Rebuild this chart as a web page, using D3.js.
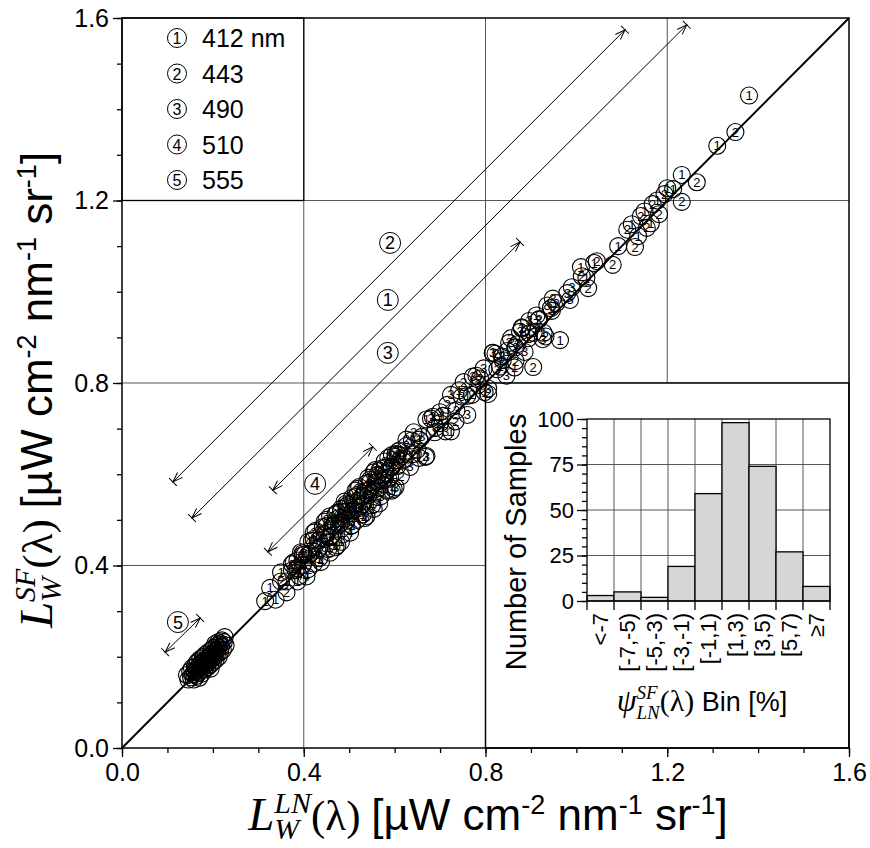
<!DOCTYPE html>
<html>
<head>
<meta charset="utf-8">
<script src="https://cdn.jsdelivr.net/npm/d3@7"></script>
<style>body{margin:0;background:#fff} text{white-space:pre}</style>
</head>
<body>
<div id="chart"></div>
<script>
// ---- data ----
// each point: [L_W^LN, L_W^SF]
var band412 = [[0.315,0.322],[0.326,0.351],[0.338,0.325],[0.350,0.385],[0.362,0.365],[0.374,0.389],[0.386,0.365],[0.398,0.427],[0.410,0.422],[0.422,0.458],[0.434,0.416],[0.446,0.496],[0.458,0.462],[0.470,0.492],[0.482,0.452],[0.494,0.536],[0.506,0.518],[0.518,0.554],[0.530,0.512],[0.542,0.592],[0.557,0.609],[0.566,0.570],[0.580,0.602],[0.594,0.564],[0.608,0.650],[0.622,0.634],[0.638,0.674],[0.654,0.636],[0.670,0.720],[0.688,0.692],[0.706,0.728],[0.724,0.694],[0.742,0.784],[0.760,0.772],[0.780,0.816],[0.798,0.780],[0.816,0.866],[0.832,0.836],[0.848,0.870],[0.864,0.834],[0.880,0.922],[0.896,0.908],[0.912,0.948],[0.928,0.910],[0.944,0.964],[0.964,0.894],[1.010,1.054],[1.022,1.030],[1.039,1.063],[1.092,1.100],[1.122,1.148],[1.136,1.122],[1.150,1.176],[1.164,1.150],[1.178,1.200],[1.200,1.227],[1.213,1.225],[1.232,1.256],[1.310,1.320],[1.380,1.430]];
var band443 = [[0.350,0.365],[0.362,0.341],[0.374,0.403],[0.386,0.394],[0.398,0.423],[0.410,0.392],[0.422,0.472],[0.434,0.438],[0.446,0.468],[0.458,0.428],[0.470,0.512],[0.482,0.494],[0.494,0.530],[0.506,0.488],[0.518,0.568],[0.530,0.534],[0.542,0.564],[0.554,0.524],[0.566,0.608],[0.578,0.590],[0.594,0.642],[0.602,0.638],[0.614,0.596],[0.626,0.676],[0.640,0.644],[0.654,0.676],[0.668,0.638],[0.684,0.726],[0.700,0.712],[0.716,0.752],[0.734,0.716],[0.752,0.802],[0.770,0.774],[0.788,0.810],[0.806,0.776],[0.822,0.864],[0.838,0.850],[0.852,0.888],[0.866,0.848],[0.880,0.920],[0.894,0.898],[0.905,0.835],[0.918,0.940],[0.932,0.902],[0.948,0.985],[1.012,1.034],[1.026,1.008],[1.045,1.067],[1.080,1.059],[1.112,1.136],[1.129,1.098],[1.142,1.166],[1.155,1.140],[1.168,1.192],[1.182,1.170],[1.194,1.214],[1.232,1.197],[1.265,1.240],[1.350,1.350]];
var band490 = [[0.450,0.500],[0.458,0.462],[0.466,0.488],[0.474,0.444],[0.482,0.524],[0.490,0.502],[0.498,0.534],[0.506,0.488],[0.514,0.564],[0.522,0.526],[0.530,0.552],[0.538,0.508],[0.546,0.588],[0.554,0.566],[0.562,0.598],[0.570,0.552],[0.578,0.628],[0.586,0.590],[0.594,0.616],[0.602,0.572],[0.610,0.652],[0.618,0.630],[0.626,0.662],[0.634,0.616],[0.642,0.692],[0.650,0.654],[0.660,0.682],[0.670,0.640],[0.680,0.722],[0.690,0.702],[0.700,0.736],[0.712,0.694],[0.724,0.774],[0.736,0.740],[0.748,0.770],[0.760,0.730],[0.772,0.814],[0.784,0.796],[0.796,0.832],[0.806,0.788],[0.816,0.866],[0.826,0.830],[0.836,0.858],[0.846,0.816],[0.856,0.898],[0.866,0.878],[0.876,0.912],[0.886,0.868],[0.896,0.936],[0.906,0.910],[0.916,0.938],[0.926,0.896],[0.936,0.970],[0.946,0.958],[0.956,0.975],[0.980,0.997],[0.990,1.010],[0.986,0.982],[0.870,0.885]];
var band510 = [[0.378,0.407],[0.382,0.390],[0.386,0.411],[0.390,0.377],[0.394,0.429],[0.398,0.401],[0.402,0.424],[0.406,0.376],[0.410,0.452],[0.414,0.426],[0.418,0.454],[0.422,0.404],[0.426,0.476],[0.430,0.434],[0.434,0.456],[0.438,0.408],[0.442,0.484],[0.446,0.458],[0.450,0.486],[0.454,0.436],[0.458,0.508],[0.462,0.466],[0.466,0.488],[0.470,0.440],[0.474,0.516],[0.478,0.490],[0.482,0.518],[0.486,0.468],[0.490,0.540],[0.494,0.498],[0.498,0.520],[0.502,0.472],[0.506,0.548],[0.510,0.522],[0.514,0.550],[0.518,0.500],[0.522,0.572],[0.526,0.530],[0.530,0.552],[0.534,0.504],[0.538,0.580],[0.542,0.554],[0.546,0.582],[0.550,0.532],[0.554,0.604],[0.558,0.562],[0.562,0.584],[0.566,0.536],[0.570,0.612],[0.574,0.586],[0.578,0.614],[0.582,0.564],[0.586,0.636],[0.590,0.594],[0.594,0.616],[0.598,0.568],[0.602,0.644],[0.606,0.618],[0.607,0.643]];
var band555 = [[0.143,0.160],[0.146,0.150],[0.150,0.168],[0.152,0.155],[0.154,0.175],[0.156,0.162],[0.158,0.150],[0.160,0.178],[0.161,0.166],[0.163,0.185],[0.164,0.158],[0.166,0.172],[0.167,0.190],[0.169,0.165],[0.170,0.181],[0.172,0.195],[0.173,0.170],[0.175,0.186],[0.176,0.163],[0.178,0.199],[0.179,0.178],[0.181,0.192],[0.182,0.172],[0.184,0.205],[0.185,0.184],[0.187,0.196],[0.188,0.177],[0.190,0.210],[0.191,0.189],[0.193,0.201],[0.194,0.182],[0.196,0.214],[0.197,0.195],[0.199,0.207],[0.200,0.188],[0.202,0.220],[0.203,0.199],[0.205,0.212],[0.206,0.193],[0.208,0.224],[0.209,0.205],[0.211,0.217],[0.213,0.200],[0.215,0.229],[0.216,0.210],[0.218,0.222],[0.220,0.236],[0.222,0.215],[0.224,0.232],[0.226,0.243],[0.228,0.225],[0.180,0.200],[0.195,0.174],[0.170,0.154],[0.205,0.228],[0.160,0.170],[0.188,0.186],[0.212,0.232],[0.198,0.216]];

var bandLabels = ["412 nm", "443", "490", "510", "555"];

// range arrows for each band (data units), drawn offset from the 1:1 line
var arrowBand  = [2, 1, 3, 4, 5];
var arrowFrom  = [[0.112,0.583],[0.154,0.504],[0.332,0.565],[0.321,0.430],[0.095,0.210]];
var arrowTo    = [[1.107,1.574],[1.243,1.585],[0.876,1.109],[0.552,0.660],[0.172,0.285]];
var arrowLabel = [[0.590,1.107],[0.585,0.982],[0.585,0.866],[0.425,0.579],[0.123,0.276]];

var axisTicks = [0.0, 0.4, 0.8, 1.2, 1.6];

// inset histogram
var histBins = ["<-7", "[-7,-5)", "[-5,-3)", "[-3,-1)", "[-1,1)", "[1,3)", "[3,5)", "[5,7)", "\u22657"];
var histCounts = [3, 5, 2, 19, 59, 98, 74, 27, 8];
var histTicks = [0, 25, 50, 75, 100];

// ---- drawing ----
var W = 870, H = 848;
var sans = "'Liberation Sans', Arial, sans-serif";
var serif = "'Liberation Serif', 'Times New Roman', serif";

var svg = d3.select("#chart").append("svg")
  .attr("width", W).attr("height", H);

var x = d3.scaleLinear().domain([0, 1.6]).range([122, 849]);
var y = d3.scaleLinear().domain([0, 1.6]).range([748, 18]);

// grid
svg.append("g").selectAll("line.gx").data([0.4, 0.8, 1.2]).enter().append("line")
  .attr("x1", function(d) { return x(d); }).attr("x2", function(d) { return x(d); })
  .attr("y1", y(0)).attr("y2", y(1.6))
  .attr("stroke", "#444").attr("stroke-width", 0.9);
svg.append("g").selectAll("line.gy").data([0.4, 0.8, 1.2]).enter().append("line")
  .attr("y1", function(d) { return y(d); }).attr("y2", function(d) { return y(d); })
  .attr("x1", x(0)).attr("x2", x(1.6))
  .attr("stroke", "#444").attr("stroke-width", 0.9);

// axes
var minor = d3.range(0, 1.61, 0.1);
svg.append("g").attr("transform", "translate(0," + y(0) + ")")
  .call(d3.axisBottom(x).tickValues(minor).tickSize(5).tickFormat(""))
  .call(function(g) { g.select(".domain").remove(); });
svg.append("g").attr("transform", "translate(" + x(0) + ",0)")
  .call(d3.axisLeft(y).tickValues(minor).tickSize(5).tickFormat(""))
  .call(function(g) { g.select(".domain").remove(); });

var xAxis = svg.append("g").attr("transform", "translate(0," + y(0) + ")")
  .call(d3.axisBottom(x).tickValues(axisTicks).tickSize(9).tickPadding(6).tickFormat(d3.format(".1f")));
var yAxis = svg.append("g").attr("transform", "translate(" + x(0) + ",0)")
  .call(d3.axisLeft(y).tickValues(axisTicks).tickSize(9).tickPadding(4).tickFormat(d3.format(".1f")));
[xAxis, yAxis].forEach(function(g) {
  g.select(".domain").remove();
  g.selectAll("text").attr("font-family", sans).attr("font-size", 25).attr("fill", "#000");
});
svg.selectAll(".tick line").attr("stroke", "#000").attr("stroke-width", 1.3);

// legend box (upper-left grid cell)
svg.append("rect")
  .attr("x", x(0)).attr("y", y(1.6))
  .attr("width", x(0.4) - x(0)).attr("height", y(1.2) - y(1.6))
  .attr("fill", "#fff").attr("stroke", "#000").attr("stroke-width", 1.3);
var leg = svg.append("g");
bandLabels.forEach(function(lab, i) {
  var cy = 38 + i * 35.5;
  leg.append("circle").attr("cx", 177).attr("cy", cy).attr("r", 9.5)
    .attr("fill", "none").attr("stroke", "#000").attr("stroke-width", 1);
  leg.append("text").attr("x", 177).attr("y", cy + 6).attr("text-anchor", "middle")
    .attr("font-family", sans).attr("font-size", 16).text(String(i + 1));
  leg.append("text").attr("x", 202).attr("y", cy + 9)
    .attr("font-family", sans).attr("font-size", 25).text(lab);
});

// range arrows
var defs = svg.append("defs");
defs.append("marker").attr("id", "bar").attr("viewBox", "-12 -7 14 14")
  .attr("refX", 0).attr("refY", 0).attr("markerWidth", 14).attr("markerHeight", 14)
  .attr("markerUnits", "userSpaceOnUse").attr("orient", "auto-start-reverse")
  .append("path").attr("d", "M0,-5.5L0,5.5M-10,-3.5L0,0L-10,3.5")
  .attr("fill", "none").attr("stroke", "#000").attr("stroke-width", 1);

var arr = svg.append("g");
arrowFrom.forEach(function(f, i) {
  var t = arrowTo[i];
  arr.append("line")
    .attr("x1", x(f[0])).attr("y1", y(f[1])).attr("x2", x(t[0])).attr("y2", y(t[1]))
    .attr("stroke", "#000").attr("stroke-width", 1)
    .attr("marker-start", "url(#bar)").attr("marker-end", "url(#bar)");
  var l = arrowLabel[i];
  arr.append("circle").attr("cx", x(l[0])).attr("cy", y(l[1])).attr("r", 10.5)
    .attr("fill", "#fff").attr("stroke", "#000").attr("stroke-width", 1);
  arr.append("text").attr("x", x(l[0])).attr("y", y(l[1]) + 6.5).attr("text-anchor", "middle")
    .attr("font-family", sans).attr("font-size", 18).text(String(arrowBand[i]));
});

// ---- inset histogram (lower-right grid cell) ----
svg.append("rect")
  .attr("x", x(0.8)).attr("y", y(0.8))
  .attr("width", x(1.6) - x(0.8)).attr("height", y(0) - y(0.8))
  .attr("fill", "#fff").attr("stroke", "#000").attr("stroke-width", 1.5);

var hx = d3.scaleBand().domain(histBins).range([587, 830]);
var hy = d3.scaleLinear().domain([0, 100]).range([601, 419]);
var hg = svg.append("g");

// inset grid
hg.selectAll("line.vg").data(histBins.slice(1)).enter().append("line")
  .attr("x1", function(d) { return hx(d); }).attr("x2", function(d) { return hx(d); })
  .attr("y1", hy(0)).attr("y2", hy(100)).attr("stroke", "#444").attr("stroke-width", 0.9);
hg.selectAll("line.hg").data([25, 50, 75]).enter().append("line")
  .attr("y1", function(d) { return hy(d); }).attr("y2", function(d) { return hy(d); })
  .attr("x1", 587).attr("x2", 830).attr("stroke", "#444").attr("stroke-width", 0.9);

// bars
hg.selectAll("rect.bar").data(histCounts).enter().append("rect")
  .attr("x", function(d, i) { return hx(histBins[i]); })
  .attr("y", function(d) { return hy(d); })
  .attr("width", hx.bandwidth())
  .attr("height", function(d) { return hy(0) - hy(d); })
  .attr("fill", "#d6d6d6").attr("stroke", "#000").attr("stroke-width", 1.3);

hg.append("rect").attr("x", 587).attr("y", hy(100)).attr("width", 830 - 587)
  .attr("height", hy(0) - hy(100)).attr("fill", "none").attr("stroke", "#000").attr("stroke-width", 1.3);

// inset y axis
hg.append("g").attr("transform", "translate(587,0)")
  .call(d3.axisLeft(hy).tickValues(d3.range(0, 101, 5)).tickSize(5).tickFormat(""))
  .call(function(g) { g.select(".domain").remove(); });
var hyAxis = hg.append("g").attr("transform", "translate(587,0)")
  .call(d3.axisLeft(hy).tickValues(histTicks).tickSize(10).tickPadding(3));
hyAxis.select(".domain").remove();
hyAxis.selectAll("text").attr("font-family", sans).attr("font-size", 22).attr("fill", "#000");

// inset x ticks at bin edges
hg.selectAll("line.xt").data(d3.range(histBins.length + 1)).enter().append("line")
  .attr("x1", function(i) { return 587 + i * hx.bandwidth(); })
  .attr("x2", function(i) { return 587 + i * hx.bandwidth(); })
  .attr("y1", hy(0)).attr("y2", hy(0) + 9).attr("stroke", "#000").attr("stroke-width", 1.3);
hg.selectAll("text.xl").data(histBins).enter().append("text")
  .attr("transform", function(d) { return "translate(" + (hx(d) + hx.bandwidth() / 2 + 7.5) + ",613) rotate(-90)"; })
  .attr("text-anchor", "end")
  .attr("font-family", sans).attr("font-size", 22).text(function(d) { return d; });
hg.selectAll(".tick line").attr("stroke", "#000").attr("stroke-width", 1.3);

// ---- math-style titles ----
function mathText(g, parts) {
  var pos = 0, supStart = 0;
  parts.forEach(function(p) {
    var t = g.append("text")
      .attr("font-family", p.f).attr("font-size", p.s)
      .attr("font-style", p.i ? "italic" : "normal")
      .attr("y", p.dy || 0).text(p.t);
    var w = t.node().getComputedTextLength();
    if (p.stack) {
      t.attr("x", supStart);
      pos = Math.max(pos, supStart + w);
    } else {
      t.attr("x", pos);
      supStart = pos;
      pos += w;
    }
  });
  return pos;
}
function axisTitle(sup, sub) {
  return [
    {t: "L", f: serif, s: 47, i: true},
    {t: sup, f: serif, s: 30, i: true, dy: -17},
    {t: sub, f: serif, s: 30, i: true, dy: 9, stack: true},
    {t: "(\u03bb) ", f: serif, s: 43},
    {t: "[\u00b5W cm", f: sans, s: 44},
    {t: "-2", f: sans, s: 27, dy: -16},
    {t: " nm", f: sans, s: 44},
    {t: "-1", f: sans, s: 27, dy: -16},
    {t: " sr", f: sans, s: 44},
    {t: "-1", f: sans, s: 27, dy: -16},
    {t: "]", f: sans, s: 44}
  ];
}

var xt = svg.append("g");
var xw = mathText(xt, axisTitle("LN", "W"));
xt.attr("transform", "translate(" + (488 - xw / 2) + ",830)");

var yt = svg.append("g");
var yw = mathText(yt, axisTitle("SF", "W"));
yt.attr("transform", "translate(52," + (390 + yw / 2) + ") rotate(-90)");

// inset titles
hg.append("text")
  .attr("transform", "translate(526,542) rotate(-90)")
  .attr("text-anchor", "middle").attr("font-family", sans).attr("font-size", 29)
  .text("Number of Samples");

var ixt = hg.append("g");
var ixw = mathText(ixt, [
  {t: "\u03c8", f: serif, s: 32, i: true},
  {t: "SF", f: serif, s: 19, i: true, dy: -12},
  {t: "LN", f: serif, s: 19, i: true, dy: 8, stack: true},
  {t: "(\u03bb)", f: serif, s: 30},
  {t: " Bin [%]", f: sans, s: 27}
]);
ixt.attr("transform", "translate(" + (702 - ixw / 2) + ",711)");

// ---- main frame and 1:1 line ----
svg.append("rect").attr("x", x(0)).attr("y", y(1.6))
  .attr("width", x(1.6) - x(0)).attr("height", y(0) - y(1.6))
  .attr("fill", "none").attr("stroke", "#000").attr("stroke-width", 1.5);
svg.append("line").attr("x1", x(0)).attr("y1", y(0)).attr("x2", x(1.6)).attr("y2", y(1.6))
  .attr("stroke", "#000").attr("stroke-width", 2);

// ---- scatter points: open circles with band number ----
var bands = [band412, band443, band490, band510, band555];
var pts = [];
bands.forEach(function(b, i) {
  b.forEach(function(p) { pts.push({ln: p[0], sf: p[1], band: i + 1}); });
});
var pg = svg.append("g");
var node = pg.selectAll("g.pt").data(pts).enter().append("g")
  .attr("transform", function(d) { return "translate(" + x(d.ln) + "," + y(d.sf) + ")"; });
node.append("circle").attr("r", 8.5).attr("fill", "none")
  .attr("stroke", "#000").attr("stroke-width", 1.1);
node.append("text").attr("y", 4.5).attr("text-anchor", "middle")
  .attr("font-family", sans).attr("font-size", 13).attr("fill", "#000")
  .text(function(d) { return d.band; });
</script>
</body>
</html>
